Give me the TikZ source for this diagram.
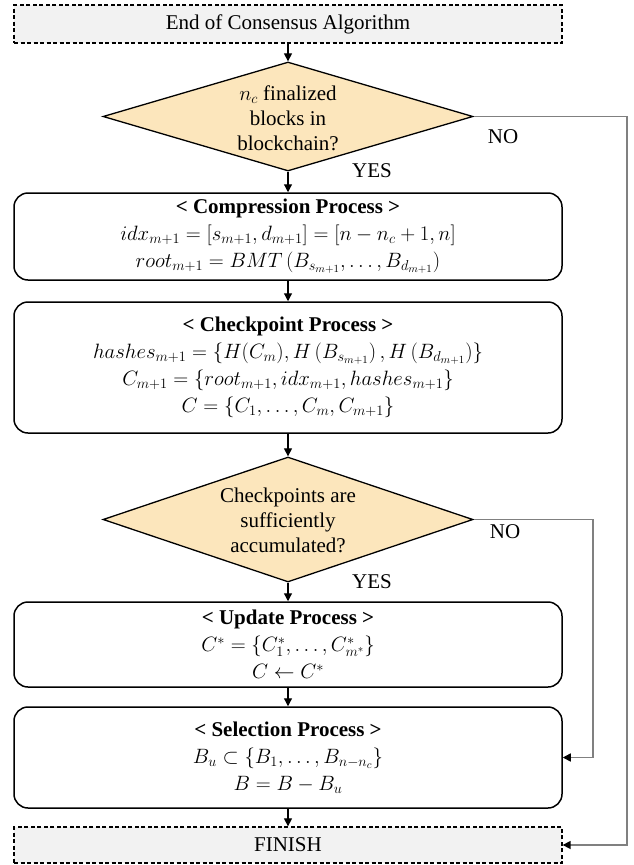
\documentclass[tikz,border=0pt]{standalone}
\usepackage{fontspec}
\setmainfont{LiberationSerif}[Extension=.ttf, UprightFont=*-Regular, BoldFont=*-Bold, ItalicFont=*-Italic, BoldItalicFont=*-BoldItalic]
\usepackage{amsmath}
\usetikzlibrary{shapes.geometric,arrows.meta}
\definecolor{termfill}{HTML}{F2F2F2}
\definecolor{decfill}{HTML}{FCE6BC}
\definecolor{noline}{HTML}{808080}
\begin{document}
\begin{tikzpicture}[x=1pt,y=-1pt,
  every node/.style={font=\rmfamily\fontsize{21}{25}\selectfont},
  termbox/.style={draw=black, line width=1.3pt, dash pattern=on 4pt off 2.5pt, fill=termfill,
    minimum width=548pt, inner sep=0pt, anchor=center},
  procbox/.style={draw=black, line width=1.5pt, rounded corners=14pt, fill=white,
    minimum width=548pt, inner sep=0pt, align=center,
    font=\rmfamily\fontsize{21}{27}\selectfont},
  decbox/.style={draw=black, line width=1.3pt, diamond, fill=decfill, inner sep=0pt,
    minimum width=370pt, minimum height=109pt},
  dectext/.style={align=center, inner sep=0pt, font=\rmfamily\fontsize{21}{25}\selectfont},
  flow/.style={draw=black, line width=1.2pt, -{Triangle[length=8pt,width=8pt]}},
  noflow/.style={draw=noline, line width=1.5pt, -{Triangle[length=8pt,width=8pt,color=black]}},
  lbl/.style={inner sep=0pt}
]
\useasboundingbox (0,0) rectangle (634,865);

\node[termbox, minimum height=38pt] (start) at (288,24) {End of Consensus Algorithm};

\node[decbox] (d1) at (288,116.5) {};
\node[dectext] (d1t) at (288,118) {$n_c$ finalized\\blocks in\\blockchain?};

\node[procbox, minimum height=87pt] (comp) at (288,236.5) {%
  \textbf{< Compression Process >}\\
  $idx_{m+1} = [s_{m+1}, d_{m+1}] = [n - n_c + 1, n]$\\
  $root_{m+1} = BMT\left(B_{s_{m+1}}, \ldots, B_{d_{m+1}}\right)$};

\node[procbox, minimum height=131pt] (chk) at (288,367.5) {%
  \textbf{< Checkpoint Process >}\\
  $hashes_{m+1} = \left\{H(C_m), H\left(B_{s_{m+1}}\right), H\left(B_{d_{m+1}}\right)\right\}$\\
  $C_{m+1} = \{root_{m+1}, idx_{m+1}, hashes_{m+1}\}$\\
  $C = \{C_1, \ldots, C_m, C_{m+1}\}$};

\node[decbox, minimum height=125pt] (d2) at (288,519.5) {};
\node[dectext] (d2t) at (288,520) {Checkpoints are\\sufficiently\\accumulated?};

\node[procbox, minimum height=85pt] (upd) at (288,644.5) {%
  \textbf{< Update Process >}\\
  $C^{*} = \{C_1^{*}, \ldots, C_{m^{*}}^{*}\}$\\
  $C \leftarrow C^{*}$};

\node[procbox, minimum height=101pt] (sel) at (288,757.5) {%
  \textbf{< Selection Process >}\\
  $B_u \subset \left\{B_1, \ldots, B_{n-n_c}\right\}$\\
  $B = B - B_u$};

\node[termbox, minimum height=36pt] (fin) at (288,845) {FINISH};

% main flow
\draw[flow] (start) -- (d1);
\draw[flow] (d1) -- (comp);
\draw[flow] (comp) -- (chk);
\draw[flow] (chk) -- (d2);
\draw[flow] (d2) -- (upd);
\draw[flow] (upd) -- (sel);
\draw[flow] (sel) -- (fin);

% NO branches
\coordinate (r1) at (627,116.5);
\coordinate (r2) at (593,519.5);
\draw[noflow] (d1.east) -- (r1) |- (fin.east);
\draw[noflow] (d2.east) -- (r2) |- (sel.east);

% labels
\node[lbl] (no1) at (503,137) {NO};
\node[lbl] (yes1) at (372,171) {YES};
\node[lbl] (no2) at (505,532) {NO};
\node[lbl] (yes2) at (372,582) {YES};
\end{tikzpicture}
\end{document}
